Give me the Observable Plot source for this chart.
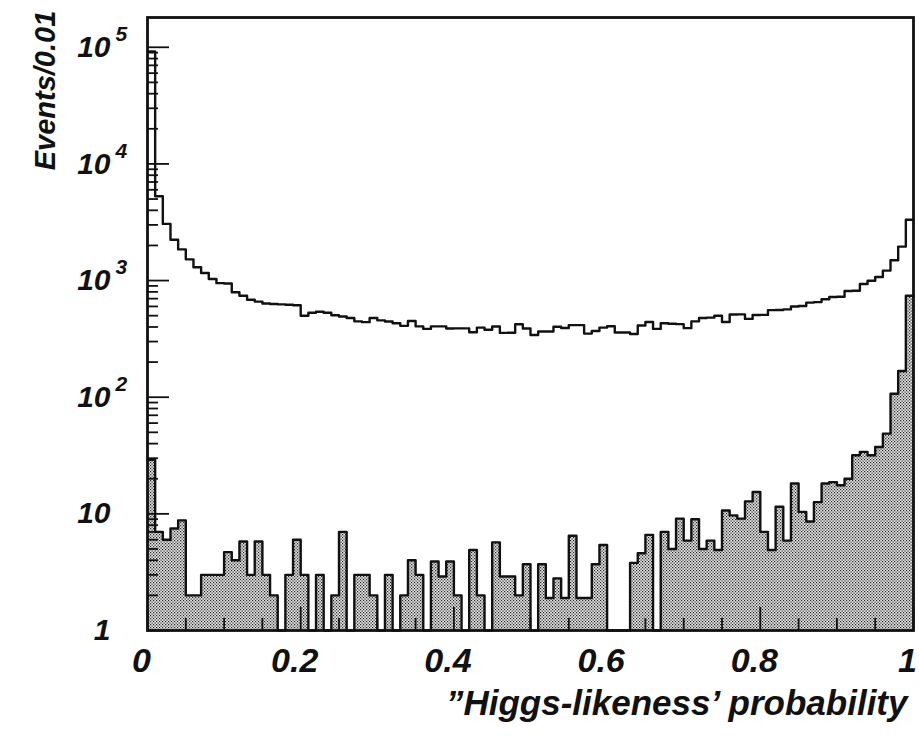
<!DOCTYPE html>
<html><head><meta charset="utf-8">
<script src="https://cdn.jsdelivr.net/npm/d3@7"></script>
<script src="https://cdn.jsdelivr.net/npm/@observablehq/plot@0.6"></script>
<style>
body{margin:0;background:#fff;}
#chart svg{font-family:"Liberation Sans",Arial,sans-serif;}
</style>
</head><body><div id="chart"></div>
<script>
// Background (outlined) histogram, 100 bins of width 0.01
const background = [
  92000, 5280, 3060, 2240, 1850, 1520, 1300, 1160, 1030, 950,
  945, 795, 740, 685, 660, 635, 630, 625, 620, 615,
  500, 530, 540, 530, 505, 492, 477, 447, 440, 478,
  456, 446, 430, 409, 450, 405, 385, 405, 405, 388,
  389, 389, 360, 395, 379, 404, 356, 357, 422, 388,
  341, 366, 366, 402, 392, 415, 415, 351, 369, 395,
  406, 359, 359, 348, 412, 441, 385, 430, 426, 423,
  391, 447, 478, 481, 499, 442, 512, 513, 469, 507,
  508, 558, 559, 566, 599, 605, 647, 654, 691, 722,
  727, 815, 817, 934, 996, 1072, 1218, 1494, 1955, 3325
];
// Signal (stippled) histogram, 0 = empty bin
const signal = [
  29, 7, 6, 7.5, 8.8, 2, 2, 3, 3, 3,
  4.7, 4, 5.8, 3, 5.8, 3, 2, 0, 3, 6,
  3, 0, 3, 0, 2, 7, 0, 3, 3, 2,
  0, 3, 0, 2, 4, 3, 0, 3.9, 2.9, 3.9,
  2, 0, 4.9, 2, 0, 5.7, 2.9, 2.9, 2, 3.7,
  0, 3.7, 1.9, 2.8, 1.9, 6.5, 1.9, 1.9, 3.7, 5.4,
  0, 0, 0, 3.8, 4.6, 6.6, 0, 7, 5, 9.1,
  5.9, 9, 5, 5.9, 4.9, 10.7, 9.7, 9.1, 12.8, 15.4,
  7, 4.9, 11.5, 5.9, 18.2, 10.4, 8.6, 12.6, 18.2, 18.7,
  17.6, 20, 31.8, 34, 31.8, 37.4, 48.7, 107, 168, 741
];
const binWidth = 0.01;

const yMajor = [1, 10, 100, 1000, 10000, 100000];
const yTickBase = ["1", "10", "10", "10", "10", "10"];
const yTickExp = ["", "", "2", "3", "4", "5"];
const yMinor = [1, 10, 100, 1000, 10000].flatMap(d => [2,3,4,5,6,7,8,9].map(m => m * d));

const xMajor = [0, 0.2, 0.4, 0.6, 0.8, 1];
const xTickLabels = ["0", "0.2", "0.4", "0.6", "0.8", "1"];
const xMinor = [0.05,0.1,0.15,0.25,0.3,0.35,0.45,0.5,0.55,0.65,0.7,0.75,0.85,0.9,0.95];

const yTitle = "Events/0.01";
const xTitle = "\u201DHiggs-likeness\u2019 probability";

// step data: lower bin edges plus the closing edge at x = 1
const edges = d3.range(background.length + 1).map(i => i * binWidth);
const bgData = edges.map((x, i) => ({x, v: background[Math.min(i, background.length - 1)]}));
const sgData = edges.map((x, i) => ({x, v: Math.max(1, signal[Math.min(i, signal.length - 1)])}));
const expData = yMajor.map((v, i) => ({v, e: yTickExp[i]})).filter(d => d.e);

const font = {fontFamily: "Liberation Sans", fontWeight: "bold", fontStyle: "italic", fill: "#111"};
const ink = "#111";

const chart = Plot.plot({
  width: 919, height: 736,
  marginLeft: 147, marginRight: 6, marginTop: 17, marginBottom: 106,
  x: {domain: [0, 1]},
  y: {type: "log", domain: [1, 180000]},
  marks: [
    Plot.areaY(sgData, {x: "x", y1: 1, y2: "v", curve: "step-after", fill: "url(#stip)"}),
    Plot.lineY(sgData, {x: "x", y: "v", curve: "step-after", stroke: ink, strokeWidth: 2.4}),
    Plot.lineY(bgData, {x: "x", y: "v", curve: "step-after", stroke: ink, strokeWidth: 2.4}),
    Plot.axisY({ticks: yMajor, tickSize: -22, tickFormat: () => "", label: null, stroke: ink, strokeWidth: 1.8}),
    Plot.axisY({ticks: yMinor, tickSize: -11, tickFormat: () => "", label: null, stroke: ink, strokeWidth: 1.8}),
    Plot.axisY({ticks: yMajor, tickSize: 0, tickPadding: 37, label: null, fontSize: 30, ...font,
      tickFormat: d => yTickBase[yMajor.indexOf(d)]}),
    Plot.text(expData, {y: "v", text: "e", frameAnchor: "left", dx: -32, dy: -13, textAnchor: "start", fontSize: 21, ...font}),
    Plot.axisX({ticks: xMajor, tickSize: -23, tickFormat: () => "", label: null, stroke: ink, strokeWidth: 1.8}),
    Plot.axisX({ticks: xMinor, tickSize: -12, tickFormat: () => "", label: null, stroke: ink, strokeWidth: 1.8}),
    Plot.axisX({ticks: xMajor, tickSize: 0, tickPadding: 17, dx: -6, label: null, fontSize: 34, ...font,
      tickFormat: d => xTickLabels[xMajor.indexOf(d)]}),
    Plot.text([yTitle], {text: d => d, frameAnchor: "top-left", dx: -113, dy: 73, rotate: -90, textAnchor: "middle", fontSize: 29, ...font}),
    Plot.text([xTitle], {text: d => d, frameAnchor: "bottom-right", dx: -6, dy: 84, textAnchor: "end", fontSize: 35, ...font}),
    Plot.frame({stroke: ink, strokeWidth: 2.8})
  ]
});

d3.select(chart).insert("defs", ":first-child").html(
  '<pattern id="stip" width="3" height="3" patternUnits="userSpaceOnUse">' +
  '<rect width="3" height="3" fill="#e4e4e4"/>' +
  '<rect x="0" y="0" width="1.2" height="1.2" fill="#222"/>' +
  '<rect x="1.5" y="1.5" width="1.2" height="1.2" fill="#222"/>' +
  '</pattern>');

document.getElementById("chart").appendChild(chart);
</script>
</body></html>
